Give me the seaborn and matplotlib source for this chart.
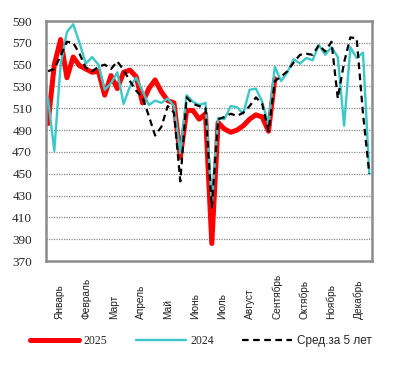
import numpy as np
import pandas as pd
import matplotlib
matplotlib.use("Agg")
import matplotlib.pyplot as plt
import seaborn as sns

# ── Data (weekly values) ──────────────────────────────────────────────
weeks = list(range(1, 53))
months = ["Январь", "Февраль", "Март", "Апрель", "Май", "Июнь",
          "Июль", "Август", "Сентябрь", "Октябрь", "Ноябрь", "Декабрь"]

y2025 = [496, 550, 573, 538, 557, 549, 546, 543, 544, 522,
         540, 528, 543, 545, 539, 515, 528, 536, 525, 517,
         515, 465, 508, 508, 500, 505, 386, 497, 491, 488,
         490, 494, 500, 504, 502, 489, 537]

y2024 = [519, 471, 550, 580, 587, 570, 551, 557, 550, 527,
         533, 543, 514, 530, 538, 526, 513, 517, 515, 519,
         512, 469, 522, 516, 513, 515, 423, 501, 500, 512,
         511, 505, 527, 528, 516, 495, 548, 535, 543, 555,
         551, 556, 554, 568, 559, 566, 557, 494, 566, 556,
         561, 450]

avg5 = [544, 546, 558, 571, 570, 560, 547, 544, 548, 550,
        546, 553, 545, 535, 526, 520, 503, 485, 493, 512,
        506, 443, 520, 514, 512, 510, 419, 500, 502, 505,
        503, 506, 512, 520, 514, 489, 535, 539, 544, 552,
        559, 560, 559, 568, 562, 571, 519, 552, 575, 574,
        505, 450]

# ── Figure ────────────────────────────────────────────────────────────
sns.set_style("white")
fig = plt.figure(figsize=(3.97, 3.73), dpi=100)
ax = fig.add_axes([46 / 397, 1 - 261 / 373, 326 / 397, 240 / 373])

sns.lineplot(x=weeks[:len(y2025)], y=y2025, color="#ff0000", linewidth=3.6,
             label="2025", ax=ax, zorder=2)
sns.lineplot(x=weeks, y=y2024, color="#3cc8c8", linewidth=1.7,
             label="2024", ax=ax, zorder=3)
sns.lineplot(x=weeks, y=avg5, color="black", linewidth=1.6,
             linestyle=(0, (3, 2)), label="Сред.за 5 лет", ax=ax, zorder=4)

x0, x1 = 0.68, 52.43
ax.set_xlim(x0, x1)
ax.set_ylim(370, 590)

step = (x1 - x0) / 12
ax.set_xticks([x0 + (i + 0.5) * step for i in range(12)])
ax.set_xticklabels(months, rotation=90, fontsize=7.3, family="Liberation Sans",
                   color="#222222")
for lab in ax.get_xticklabels():
    lab.set_va("bottom")
ax.tick_params(axis="x", length=0, pad=42)

ax.set_yticks(range(370, 591, 20))
ax.set_yticklabels([str(v) for v in range(370, 591, 20)],
                   family="Liberation Serif", fontsize=9.5)
ax.tick_params(axis="y", length=0, pad=10)

ax.grid(axis="y", color="#888888", linestyle=(0, (1, 1)), linewidth=0.9)
ax.grid(axis="x", visible=False)
for s in ax.spines.values():
    s.set_color("#8c8c8c")
    s.set_linewidth(1.8)

ax.set_xlabel("")
ax.set_ylabel("")

# ── Legend ────────────────────────────────────────────────────────────
handles, labels = ax.get_legend_handles_labels()
ax.get_legend().remove()
leg = fig.legend(handles, labels, loc="center", bbox_to_anchor=(0.505, 0.086),
                 ncol=3, frameon=False, handlelength=4.2, handletextpad=0.4,
                 columnspacing=2.4, fontsize=8.5)
for t in leg.get_texts()[:2]:
    t.set_family("Liberation Serif")
leg.get_texts()[2].set_family("Liberation Sans")

fig.savefig("out.png", dpi=100)
